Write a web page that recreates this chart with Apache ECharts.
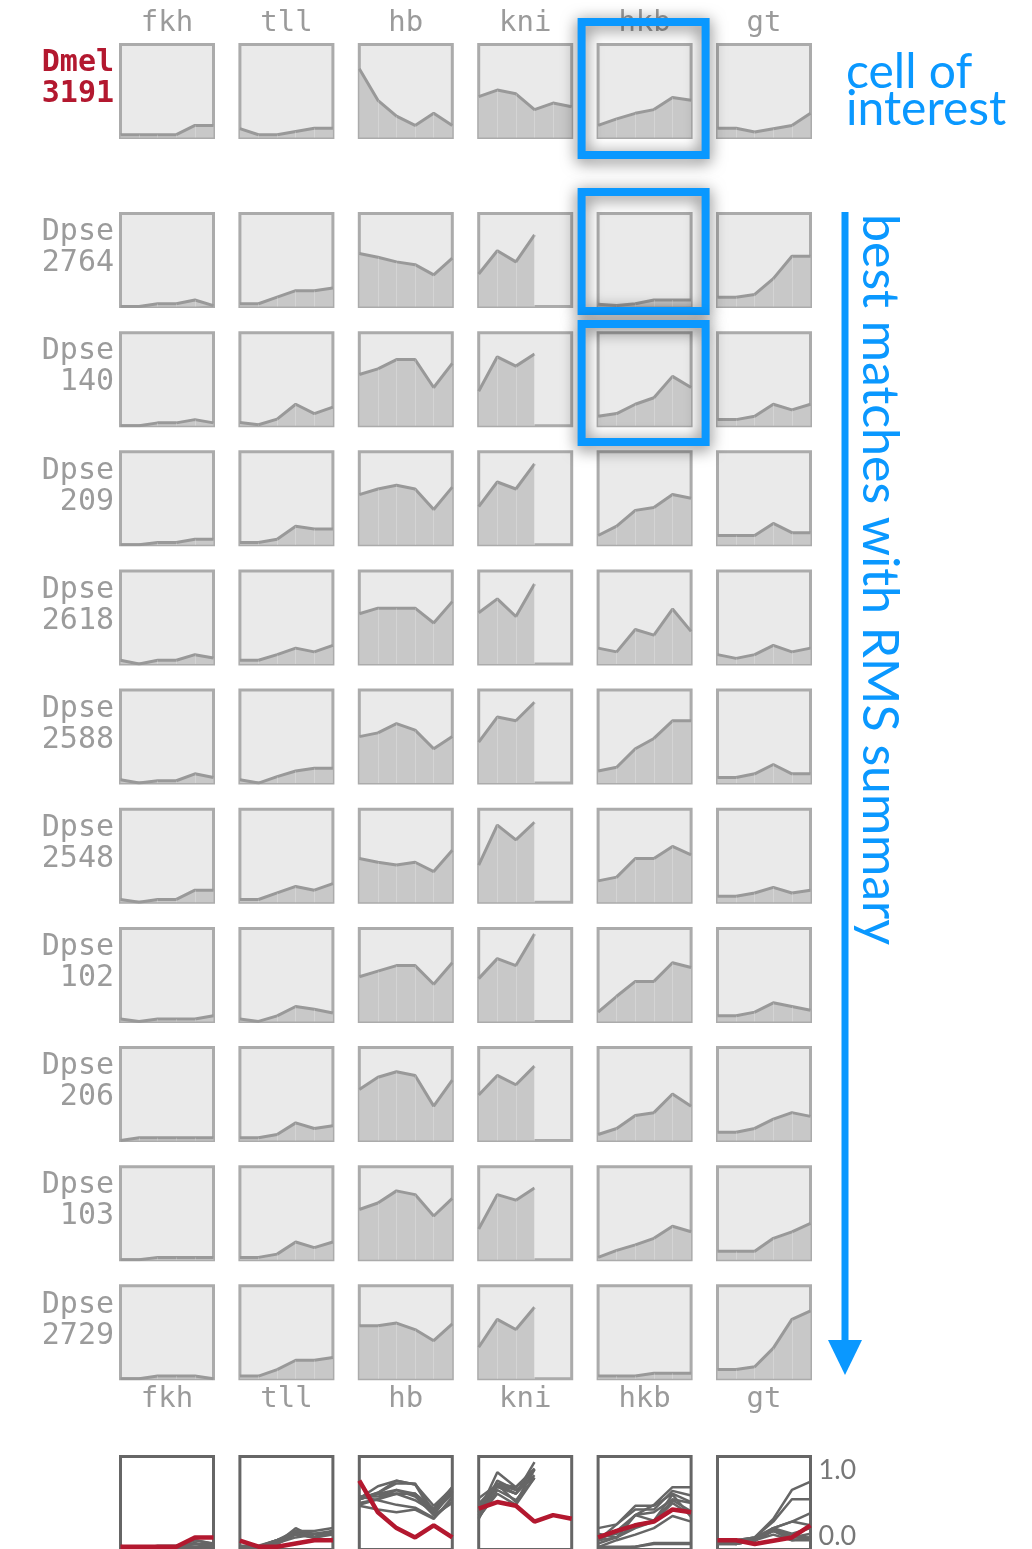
<!DOCTYPE html>
<html>
<head>
<meta charset="utf-8">
<script src="https://cdn.jsdelivr.net/npm/echarts@6/dist/echarts.min.js"></script>
<style>
  html, body { margin: 0; padding: 0; background: #ffffff; }
  #chart { width: 1032px; height: 1549px; }
</style>
</head>
<body>
<div id="chart"></div>
<script>
// Expression profiles along six positions, one array per gene.
// Row order: Dmel 3191 first, then the Dpse matches ranked by RMS.
const genes = ['fkh', 'tll', 'hb', 'kni', 'hkb', 'gt'];
const species = ['Dmel', 'Dpse', 'Dpse', 'Dpse', 'Dpse', 'Dpse', 'Dpse', 'Dpse', 'Dpse', 'Dpse', 'Dpse'];
const cellIds = ['3191', '2764', '140', '209', '2618', '2588', '2548', '102', '206', '103', '2729'];
const positions = ['1', '2', '3', '4', '5', '6'];
const yTickLabels = ['0.0', '1.0'];

const fkh = [
  [0.03, 0.03, 0.03, 0.03, 0.13, 0.13],
  [0.00, 0.00, 0.03, 0.03, 0.07, 0.01],
  [0.00, 0.00, 0.03, 0.03, 0.065, 0.03],
  [0.00, 0.00, 0.025, 0.025, 0.06, 0.06],
  [0.04, 0.00, 0.04, 0.04, 0.10, 0.065],
  [0.035, 0.00, 0.025, 0.025, 0.10, 0.06],
  [0.03, 0.00, 0.03, 0.03, 0.13, 0.13],
  [0.025, 0.00, 0.025, 0.025, 0.025, 0.06],
  [0.00, 0.03, 0.03, 0.03, 0.03, 0.03],
  [0.00, 0.00, 0.025, 0.025, 0.025, 0.025],
  [0.00, 0.00, 0.03, 0.03, 0.03, 0.00]
];
const tll = [
  [0.095, 0.03, 0.03, 0.065, 0.10, 0.10],
  [0.03, 0.03, 0.10, 0.17, 0.17, 0.20],
  [0.035, 0.01, 0.07, 0.23, 0.13, 0.20],
  [0.025, 0.025, 0.06, 0.20, 0.17, 0.17],
  [0.04, 0.04, 0.10, 0.17, 0.13, 0.20],
  [0.035, 0.00, 0.07, 0.13, 0.16, 0.16],
  [0.03, 0.03, 0.10, 0.17, 0.13, 0.20],
  [0.025, 0.00, 0.06, 0.16, 0.13, 0.09],
  [0.03, 0.03, 0.065, 0.19, 0.13, 0.16],
  [0.025, 0.025, 0.06, 0.19, 0.13, 0.19],
  [0.03, 0.03, 0.10, 0.20, 0.20, 0.23]
];
const hb = [
  [0.74, 0.40, 0.23, 0.13, 0.26, 0.13],
  [0.57, 0.53, 0.48, 0.45, 0.34, 0.52],
  [0.55, 0.61, 0.71, 0.71, 0.41, 0.67],
  [0.54, 0.60, 0.64, 0.60, 0.38, 0.62],
  [0.54, 0.60, 0.60, 0.60, 0.44, 0.67],
  [0.50, 0.54, 0.64, 0.57, 0.37, 0.50],
  [0.47, 0.43, 0.40, 0.43, 0.33, 0.56],
  [0.48, 0.54, 0.60, 0.60, 0.40, 0.63],
  [0.55, 0.68, 0.74, 0.70, 0.37, 0.65],
  [0.54, 0.61, 0.74, 0.70, 0.47, 0.66],
  [0.57, 0.57, 0.60, 0.53, 0.41, 0.59]
];
const kni = [
  [0.44, 0.51, 0.47, 0.30, 0.37, 0.33],
  [0.35, 0.60, 0.48, 0.77, null, null],
  [0.37, 0.74, 0.64, 0.77, null, null],
  [0.41, 0.675, 0.60, 0.87, null, null],
  [0.55, 0.70, 0.51, 0.86, null, null],
  [0.44, 0.71, 0.67, 0.87, null, null],
  [0.40, 0.83, 0.67, 0.86, null, null],
  [0.46, 0.675, 0.60, 0.94, null, null],
  [0.49, 0.70, 0.60, 0.80, null, null],
  [0.33, 0.70, 0.64, 0.77, null, null],
  [0.34, 0.64, 0.53, 0.77, null, null]
];
const hkb = [
  [0.13, 0.20, 0.26, 0.30, 0.43, 0.40],
  [0.025, 0.01, 0.03, 0.07, 0.07, 0.07],
  [0.10, 0.13, 0.23, 0.30, 0.53, 0.41],
  [0.10, 0.20, 0.37, 0.40, 0.54, 0.50],
  [0.17, 0.13, 0.37, 0.31, 0.59, 0.35],
  [0.13, 0.17, 0.37, 0.48, 0.67, 0.67],
  [0.23, 0.27, 0.47, 0.47, 0.60, 0.51],
  [0.10, 0.27, 0.43, 0.43, 0.63, 0.58],
  [0.065, 0.13, 0.27, 0.30, 0.50, 0.37],
  [0.025, 0.10, 0.16, 0.23, 0.36, 0.30],
  [0.03, 0.03, 0.03, 0.06, 0.06, 0.06]
];
const gt = [
  [0.10, 0.10, 0.06, 0.095, 0.13, 0.26],
  [0.10, 0.10, 0.13, 0.30, 0.54, 0.54],
  [0.065, 0.065, 0.10, 0.23, 0.17, 0.23],
  [0.10, 0.10, 0.10, 0.23, 0.13, 0.13],
  [0.10, 0.06, 0.10, 0.20, 0.13, 0.17],
  [0.06, 0.06, 0.10, 0.20, 0.10, 0.10],
  [0.065, 0.065, 0.10, 0.16, 0.10, 0.13],
  [0.06, 0.06, 0.10, 0.20, 0.16, 0.12],
  [0.09, 0.09, 0.13, 0.23, 0.30, 0.26],
  [0.09, 0.09, 0.09, 0.23, 0.30, 0.39],
  [0.10, 0.10, 0.13, 0.33, 0.64, 0.73]
];

const profiles = { fkh, tll, hb, kni, hkb, gt };

// Layout of the small-multiple grid
const CELL = 96;
const COL0 = 119, COL_STEP = 119.4;
const ROW_DMEL = 43, ROW_DPSE = 212, ROW_STEP = 119.15;
const OVERLAY_TOP = 1455;
const colX = c => COL0 + c * COL_STEP;
const rowY = r => (r === 0 ? ROW_DMEL : ROW_DPSE + (r - 1) * ROW_STEP);

const BLUE = '#0a98ff';
const RED = '#b3182f';
const LABEL_GREY = '#9b9b9b';
const PIXEL_FONT = '"DejaVu Sans Mono", monospace';
const NOTE_FONT = 'Lato, "Open Sans", sans-serif';

const grid = [], xAxis = [], yAxis = [], series = [], graphic = [];

function addCellGrid(x, y, bg, border) {
  const i = grid.length;
  grid.push({
    left: x + 1.5, top: y + 1.5, width: CELL - 3, height: CELL - 3,
    show: true, backgroundColor: bg, borderColor: border, borderWidth: 3,
    containLabel: false, outerBoundsMode: 'none'
  });
  xAxis.push({ gridIndex: i, type: 'category', data: positions, boundaryGap: false, show: false });
  yAxis.push({ gridIndex: i, type: 'value', min: 0, max: 1, show: false });
  return i;
}

// Area cells: one per (cell id, gene)
species.forEach((sp, r) => {
  genes.forEach((g, c) => {
    const vals = profiles[g][r];
    const gi = addCellGrid(colX(c), rowY(r), '#eaeaea', '#ababab');
    const guides = [];
    vals.forEach((v, k) => {
      if (k > 0 && k < positions.length - 1 && v != null) {
        guides.push([{ coord: [positions[k], 0] }, { coord: [positions[k], v] }]);
      }
    });
    series.push({
      type: 'line', xAxisIndex: gi, yAxisIndex: gi, data: vals,
      symbol: 'none', silent: true, animation: false,
      lineStyle: { color: '#999999', width: 3 },
      areaStyle: { color: '#c8c8c8', opacity: 1 },
      markLine: {
        silent: true, symbol: 'none', animation: false,
        label: { show: false },
        lineStyle: { color: 'rgba(255,255,255,0.22)', width: 1, type: 'solid' },
        data: guides
      }
    });
  });
});

// Overlay row: every Dpse profile in grey with Dmel on top in red
genes.forEach((g, c) => {
  const gi = addCellGrid(colX(c), OVERLAY_TOP, '#ffffff', '#666666');
  if (c === genes.length - 1) {
    yAxis[gi] = {
      gridIndex: gi, type: 'value', min: 0, max: 1, interval: 1, position: 'right',
      axisLine: { show: false }, axisTick: { show: false }, splitLine: { show: false },
      axisLabel: {
        show: true, margin: 8, color: '#777777', fontSize: 27, fontFamily: NOTE_FONT,
        formatter: v => yTickLabels[v],
        verticalAlignMinLabel: 'bottom', verticalAlignMaxLabel: 'top'
      }
    };
  }
  for (let r = 1; r < species.length; r++) {
    series.push({
      type: 'line', xAxisIndex: gi, yAxisIndex: gi, data: profiles[g][r],
      symbol: 'none', silent: true, animation: false, z: 2,
      lineStyle: { color: '#666666', width: 2.5 }
    });
  }
  series.push({
    type: 'line', xAxisIndex: gi, yAxisIndex: gi, data: profiles[g][0],
    symbol: 'none', silent: true, animation: false, z: 3,
    lineStyle: { color: RED, width: 4.5 }
  });
});

// Gene headers above the first row and below the last Dpse row
genes.forEach((g, c) => {
  const cx = colX(c) + CELL / 2;
  [23, 1399].forEach(y => {
    graphic.push({
      type: 'text', x: cx, y: y, z: 5,
      style: { text: g, fill: LABEL_GREY, font: '29px ' + PIXEL_FONT, align: 'center', verticalAlign: 'middle' }
    });
  });
});

// Row labels
species.forEach((sp, r) => {
  const isRef = r === 0;
  graphic.push({
    type: 'text', x: 114, y: rowY(r) + 36, z: 5,
    style: {
      text: sp + '\n' + cellIds[r],
      fill: isRef ? RED : LABEL_GREY,
      font: (isRef ? 'bold ' : '') + '30px ' + PIXEL_FONT,
      lineHeight: 31, align: 'right', verticalAlign: 'middle'
    }
  });
});

// Highlight boxes around the hkb column
const boxX = colX(4) - 15;
const boxW = CELL + 28;
[[22, 133], [192, 119], [324, 118]].forEach(([y, h]) => {
  graphic.push({
    type: 'rect', z: 50,
    shape: { x: boxX, y: y, width: boxW, height: h },
    style: {
      fill: null, stroke: BLUE, lineWidth: 8,
      shadowBlur: 16, shadowColor: 'rgba(0,0,0,0.6)', shadowOffsetX: 0, shadowOffsetY: 3
    }
  });
});

// Annotations
graphic.push({
  type: 'text', x: 846, y: 54, z: 60,
  style: { text: 'cell of\ninterest', fill: BLUE, font: '48px ' + NOTE_FONT, lineHeight: 37, align: 'left', verticalAlign: 'top' }
});
graphic.push({
  type: 'line', z: 60,
  shape: { x1: 845, y1: 212, x2: 845, y2: 1342 },
  style: { stroke: BLUE, lineWidth: 7 }
});
graphic.push({
  type: 'polygon', z: 60,
  shape: { points: [[828, 1340], [862, 1340], [845, 1375]] },
  style: { fill: BLUE }
});
graphic.push({
  type: 'text', x: 879, y: 214, rotation: -Math.PI / 2, z: 60,
  style: { text: 'best matches with RMS summary', fill: BLUE, font: '50px ' + NOTE_FONT, align: 'left', verticalAlign: 'middle' }
});

const chart = echarts.init(document.getElementById('chart'), null, { renderer: 'canvas' });
chart.setOption({
  animation: false,
  backgroundColor: '#ffffff',
  grid, xAxis, yAxis, series, graphic
});
</script>
</body>
</html>
